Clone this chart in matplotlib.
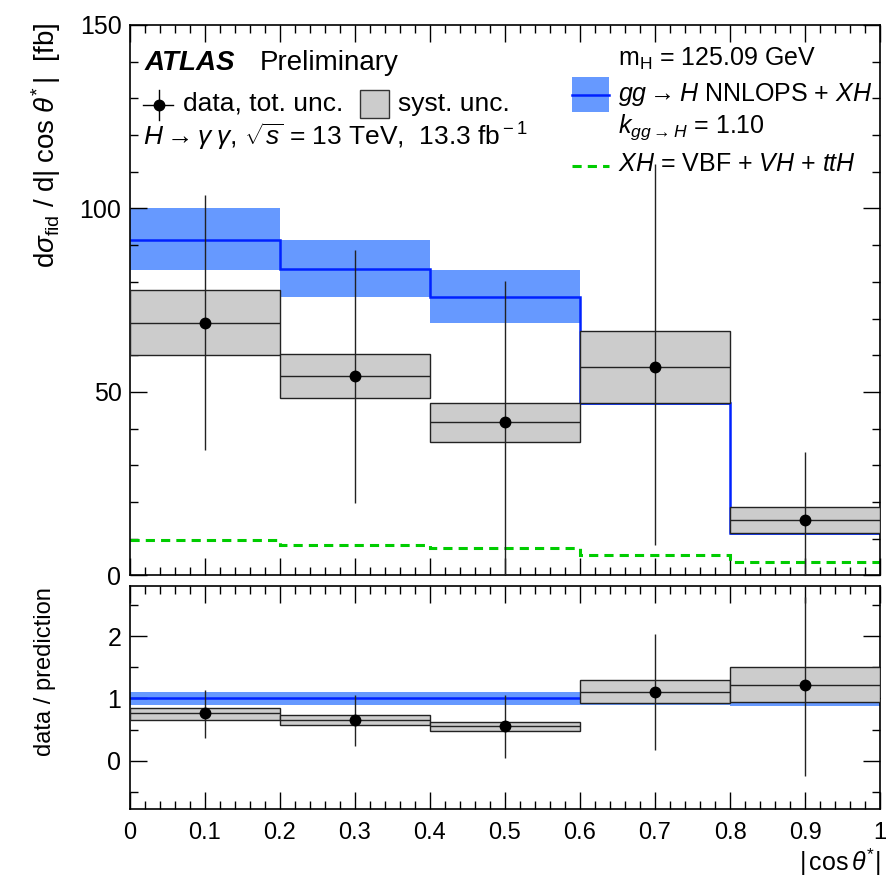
import numpy as np
import matplotlib
matplotlib.use("Agg")
import matplotlib.pyplot as plt
from matplotlib.patches import Rectangle
from matplotlib.lines import Line2D
from matplotlib.ticker import MultipleLocator, FuncFormatter

plt.rcParams['font.family'] = ['Liberation Sans', 'DejaVu Sans']
plt.rcParams['mathtext.fontset'] = 'custom'
plt.rcParams['mathtext.rm'] = 'Liberation Sans'
plt.rcParams['mathtext.it'] = 'Liberation Sans:italic'
plt.rcParams['mathtext.bf'] = 'Liberation Sans:bold'

# bins in |cos theta*|
edges = [0.0, 0.2, 0.4, 0.6, 0.8, 1.0]
centers = [0.1, 0.3, 0.5, 0.7, 0.9]

# prediction gg->H NNLOPS + XH
pred = [91.4, 83.5, 75.8, 46.9, 11.5]
pred_hi = [100.0, 91.4, 83.2, 47.7, 12.3]
pred_lo = [83.2, 75.8, 68.7, 46.4, 10.9]
# XH = VBF + VH + ttH
xh = [9.5, 8.2, 7.4, 5.5, 3.5]

# data
data = [68.7, 54.3, 41.7, 56.7, 15.0]
tot_hi = [103.6, 88.6, 80.2, 112.0, 33.5]
tot_lo = [34.1, 19.6, 0.0, 8.2, 0.0]
syst_hi = [77.7, 60.3, 46.9, 66.5, 18.5]
syst_lo = [60.0, 48.3, 36.3, 46.9, 11.5]

# ratio panel
r_pred_hi = [1.10, 1.10, 1.10, 1.02, 0.97]
r_pred_lo = [0.90, 0.90, 0.90, 0.90, 0.88]
r_data = [0.76, 0.66, 0.56, 1.10, 1.22]
r_tot_hi = [1.13, 1.06, 1.05, 2.04, 2.63]
r_tot_lo = [0.37, 0.24, 0.04, 0.17, -0.24]
r_syst_hi = [0.85, 0.73, 0.62, 1.30, 1.50]
r_syst_lo = [0.65, 0.57, 0.48, 0.92, 0.94]

band_col = '#6699ff'
line_col = '#0022ff'
box_col = '#cccccc'
green = '#00cc00'

fig = plt.figure(figsize=(8.89, 8.92), dpi=100)
ax = fig.add_axes([0.146, 0.355, 0.844, 0.617])
axr = fig.add_axes([0.146, 0.093, 0.844, 0.250])

widths = np.diff(edges)


def draw(a, p_hi, p_lo, p_line, d, t_hi, t_lo, s_hi, s_lo):
    a.bar(edges[:-1], np.array(p_hi) - np.array(p_lo), bottom=p_lo, width=widths,
          align='edge', color=band_col, lw=0, zorder=1)
    a.stairs(p_line, edges, color=line_col, lw=1.8, zorder=2, baseline=None)
    a.bar(edges[:-1], np.array(s_hi) - np.array(s_lo), bottom=s_lo, width=widths,
          align='edge', color=box_col, edgecolor='#222222', lw=1.0, zorder=3)
    a.hlines(d, edges[:-1], edges[1:], color='#222222', lw=1.0, zorder=4)
    a.vlines(centers, t_lo, t_hi, color='#222222', lw=1.0, zorder=5)
    a.plot(centers, d, 'o', color='black', ms=7.5, zorder=6)


draw(ax, pred_hi, pred_lo, pred, data, tot_hi, tot_lo, syst_hi, syst_lo)
ax.stairs(xh, edges, color=green, lw=2.2, ls=(0, (3, 2)), zorder=2, baseline=None)

draw(axr, r_pred_hi, r_pred_lo, [1.0] * 5, r_data, r_tot_hi, r_tot_lo, r_syst_hi, r_syst_lo)

ax.set_xlim(0, 1)
ax.set_ylim(0, 150)
axr.set_xlim(0, 1)
axr.set_ylim(-0.77, 2.8)

for a in (ax, axr):
    a.xaxis.set_major_locator(MultipleLocator(0.1))
    a.xaxis.set_minor_locator(MultipleLocator(0.02))
    a.tick_params(which='both', direction='in', top=True, right=True, width=1.0)
    a.tick_params(which='major', length=12)
    a.tick_params(which='minor', length=6)
    a.tick_params(axis='y', labelsize=18, pad=6)
    a.tick_params(axis='x', labelsize=17)
    for s in a.spines.values():
        s.set_linewidth(1.2)
ax.yaxis.set_major_locator(MultipleLocator(50))
ax.yaxis.set_minor_locator(MultipleLocator(10))
ax.tick_params(labelbottom=False)
axr.yaxis.set_major_locator(MultipleLocator(1))
axr.yaxis.set_minor_locator(MultipleLocator(0.5))
axr.xaxis.set_major_formatter(FuncFormatter(lambda v, p: '%g' % round(v, 2)))
axr.tick_params(axis='x', pad=9)

fig.text(0.052, 0.975, r'd$\sigma_{\rm fid}$ / d$|\;$cos$\;\theta^{*}\,|$  [fb]', rotation=90,
         ha='center', va='top', fontsize=20)
fig.text(0.051, 0.247, 'data / prediction', rotation=90, ha='center', va='center', fontsize=17)
fig.text(0.99, 0.033, r'$|\,$cos$\,\theta^{*}|$', ha='right', va='center', fontsize=18)

# legend / labels (axes coordinates)
T = ax.transAxes
ax.text(0.02, 0.931, 'ATLAS', transform=T, fontsize=20, fontweight='bold', style='italic',
        va='center', ha='left')
ax.text(0.173, 0.931, 'Preliminary', transform=T, fontsize=20, va='center', ha='left')
ax.add_line(Line2D([0.017, 0.057], [0.855, 0.855], transform=T, color='black', lw=1.0))
ax.add_line(Line2D([0.039, 0.039], [0.827, 0.882], transform=T, color='black', lw=1.0))
ax.plot([0.039], [0.855], 'o', color='black', ms=7.5, transform=T)
ax.text(0.071, 0.857, 'data, tot. unc.', transform=T, fontsize=19, va='center')
ax.add_patch(Rectangle((0.307, 0.831), 0.038, 0.051, transform=T, facecolor=box_col,
                       edgecolor='#333333', lw=1.0))
ax.text(0.357, 0.857, 'syst. unc.', transform=T, fontsize=19, va='center')
ax.text(0.017, 0.797, r'$H\rightarrow\gamma\;\gamma$, $\sqrt{s}$ = 13 TeV,  13.3 fb$^{\rm -1}$',
        transform=T, fontsize=19, va='center')

ax.text(0.651, 0.938, r'm$_{\rm H}$ = 125.09 GeV', transform=T, fontsize=18, va='center')
ax.add_patch(Rectangle((0.589, 0.842), 0.050, 0.063, transform=T, facecolor=band_col, lw=0))
ax.add_line(Line2D([0.589, 0.639], [0.873, 0.873], transform=T, color=line_col, lw=1.8))
ax.text(0.651, 0.873, r'$gg\rightarrow H$ NNLOPS + $XH$', transform=T, fontsize=18, va='center')
ax.text(0.651, 0.815, r'$k_{gg\rightarrow H}$ = 1.10', transform=T, fontsize=18, va='center')
ax.add_line(Line2D([0.589, 0.639], [0.744, 0.744], transform=T, color=green, lw=2.2, ls=(0, (3, 2))))
ax.text(0.651, 0.748, r'$XH$ = VBF + $VH$ + $ttH$', transform=T, fontsize=18, va='center')

fig.savefig('out.png', dpi=100)
